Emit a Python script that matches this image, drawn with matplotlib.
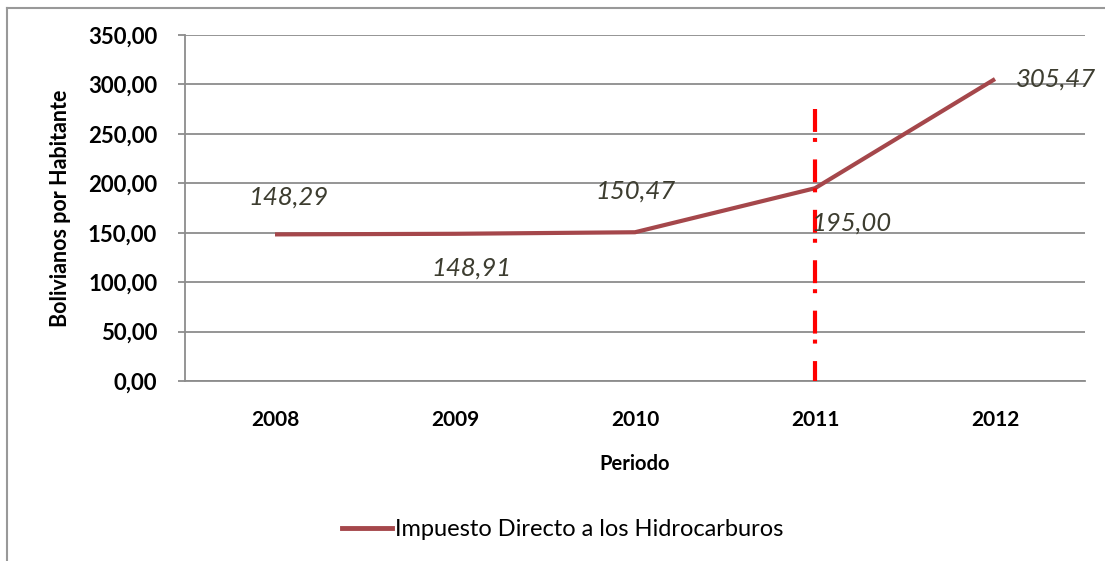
import matplotlib
matplotlib.use('Agg')
import matplotlib.pyplot as plt
from matplotlib.lines import Line2D
from matplotlib.ticker import FuncFormatter

# data
periodos = ['2008', '2009', '2010', '2011', '2012']
idh = [148.29, 148.91, 150.47, 195.00, 305.47]
etiquetas = ['148,29', '148,91', '150,47', '195,00', '305,47']
serie = 'Impuesto Directo a los Hidrocarburos'
corte_idx = 3      # 2011
corte_top = 275

# label offsets in points (dx, dy, ha)
offs = [(10, 27, 'center'), (12, -25, 'center'), (0, 30, 'center'),
        (26, -25, 'center'), (15, 0, 'left')]

plt.rcParams['font.family'] = ['Lato', 'DejaVu Sans']

fig = plt.figure(figsize=(11.05, 5.61), dpi=100)
ax = fig.add_axes([185/1105, 1-381/561, 900/1105, 346/561])

x = list(range(len(periodos)))
ax.plot(x, idh, color='#a5474b', lw=3, solid_capstyle='butt', label=serie, zorder=3)
# drawn top->bottom so the dash pattern starts at the top
ax.vlines(corte_idx, corte_top, 0, colors='#ff0000', lw=3,
          linestyles=[(0, (5.5, 1.45, 0.95, 4.2))], zorder=4)

for xi, v, t, (dx, dy, ha) in zip(x, idh, etiquetas, offs):
    ax.annotate(t, (xi, v), xytext=(dx, dy), textcoords='offset points',
                ha=ha, va='center', fontsize=18.5, style='italic',
                color='#3d3d30', zorder=5)

ax.set_xlim(-0.5, 4.5)
ax.set_ylim(0, 350)
ax.set_yticks(range(0, 351, 50))
ax.yaxis.set_major_formatter(FuncFormatter(lambda v, p: f'{v:.2f}'.replace('.', ',')))
ax.set_xticks(x)
ax.set_xticklabels(periodos)
ax.grid(axis='y', color='#8c8c8c', lw=1.3)
ax.set_axisbelow(True)
for s in ['top', 'right']:
    ax.spines[s].set_visible(False)
for s in ['left', 'bottom']:
    ax.spines[s].set_color('#8c8c8c')
    ax.spines[s].set_linewidth(1.3)
ax.tick_params(axis='y', length=5, width=1.3, color='#8c8c8c', pad=15,
               labelsize=16)
ax.tick_params(axis='x', length=0, pad=21, labelsize=15)
for lb in ax.get_xticklabels() + ax.get_yticklabels():
    lb.set_fontweight('bold')

ax.set_xlabel('Periodo', fontsize=14.5, fontweight='bold', labelpad=17)
ax.set_ylabel('Bolivianos por Habitante', fontsize=15.5, fontweight='bold', labelpad=12)

fig.legend(handles=[Line2D([], [], color='#a5474b', lw=3.5)], labels=[serie],
           loc='center', bbox_to_anchor=(563/1105, 1-530/561), frameon=False,
           fontsize=17, handlelength=2.1, handletextpad=0.15)

# outer chart border (left and top only visible)
fig.add_artist(Line2D([7/1105, 7/1105], [0, 1-8/561], color='#999999', lw=1.5))
fig.add_artist(Line2D([7/1105, 1], [1-8/561, 1-8/561], color='#999999', lw=1.5))

fig.savefig('out.png', dpi=100)
